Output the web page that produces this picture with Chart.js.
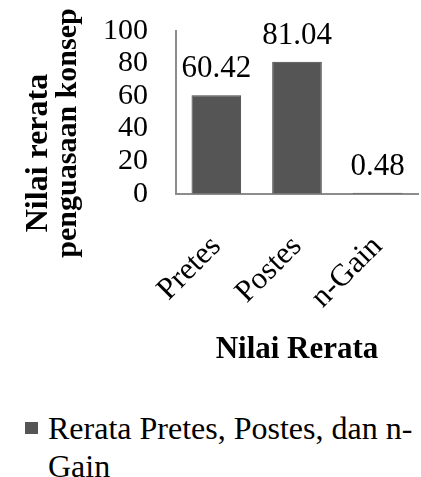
<!DOCTYPE html>
<html>
<head>
<meta charset="utf-8">
<script src="https://cdn.jsdelivr.net/npm/chart.js@4"></script>
<style>
  body { margin: 0; background: #fff; }
  #wrap { position: relative; width: 421px; height: 477px; overflow: hidden; }
  #myChart { position: absolute; left: 0; top: -15px; }
  #legend { position: absolute; left: 25px; top: 409px; width: 392px; display: flex;
            font-family: "Liberation Serif", "Times New Roman", serif; font-size: 32px; line-height: 38px; color: #000; }
  #legend .box { flex: none; width: 13px; height: 12px; margin: 13px 10px 0 0; background: #555; }
</style>
</head>
<body>
<div id="wrap">
  <canvas id="myChart" width="421" height="415"></canvas>
  <div id="legend"></div>
</div>
<script>
const categories = ['Pretes', 'Postes', 'n-Gain'];
const values = [60.42, 81.04, 0.48];
const seriesName = 'Rerata Pretes, Postes, dan n-Gain';
const yTicks = [0, 20, 40, 60, 80, 100];
const yTitle = ['Nilai rerata', 'penguasaan konsep'];
const xTitle = 'Nilai Rerata';

const serif = '"Liberation Serif", "Times New Roman", serif';

// label angka di atas batang
const valueLabels = {
    id: 'valueLabels',
    afterDatasetsDraw(chart) {
        const c = chart.ctx;
        const meta = chart.getDatasetMeta(0);
        c.save();
        c.font = '31px ' + serif;
        c.fillStyle = '#000';
        c.textAlign = 'center';
        c.textBaseline = 'alphabetic';
        meta.data.forEach((bar, i) => {
            c.fillText(values[i].toFixed(2), bar.x, bar.y - 18);
        });
        c.restore();
    }
};

// judul sumbu y (dua baris, agak ke bawah seperti aslinya)
const yTitlePlugin = {
    id: 'yTitle',
    afterDraw(chart) {
        const c = chart.ctx;
        c.save();
        c.fillStyle = '#000';
        c.textAlign = 'center';
        c.textBaseline = 'alphabetic';
        c.translate(0, 160);
        c.rotate(-Math.PI / 2);
        c.font = 'bold 32px ' + serif;
        c.fillText(yTitle[0], -8, 47);
        c.font = 'bold 30px ' + serif;
        c.fillText(yTitle[1], 12, 76);
        c.restore();
    }
};

const ctx = document.getElementById('myChart').getContext('2d');
const myChart = new Chart(ctx, {
    type: 'bar',
    data: {
        labels: categories,
        datasets: [{
            label: seriesName,
            data: values,
            backgroundColor: '#555555',
            borderColor: '#444444',
            borderWidth: 1,
            barPercentage: 0.615,
            categoryPercentage: 1
        }]
    },
    options: {
        responsive: false,
        animation: false,
        layout: { padding: { left: 75, top: 0, right: 3, bottom: 27 } },
        plugins: { legend: { display: false }, tooltip: { enabled: false } },
        scales: {
            y: {
                min: 0, max: 100,
                afterBuildTicks: (axis) => { axis.ticks = yTicks.map(v => ({ value: v })); },
                grid: { display: false, drawTicks: false },
                border: { color: '#8c8c8c', width: 2 },
                ticks: { color: '#000', padding: 28, autoSkip: false,
                         font: { family: serif, size: 30 } }
            },
            x: {
                afterFit: (axis) => { axis.height -= 4; axis.paddingRight = 0; },
                grid: { display: false, drawTicks: false },
                border: { color: '#8c8c8c', width: 2 },
                ticks: { color: '#000', padding: 35, labelOffset: 0, minRotation: 45, maxRotation: 45,
                         font: { family: serif, size: 31 } },
                title: { display: true, text: xTitle, color: '#000', padding: { top: -15 },
                         font: { family: serif, size: 31, weight: 'bold' } }
            }
        }
    },
    plugins: [valueLabels, yTitlePlugin]
});

// legenda HTML supaya teks bisa pindah baris seperti aslinya
document.getElementById('legend').innerHTML =
    '<span class="box"></span><span>' + seriesName + '</span>';
</script>
</body>
</html>
